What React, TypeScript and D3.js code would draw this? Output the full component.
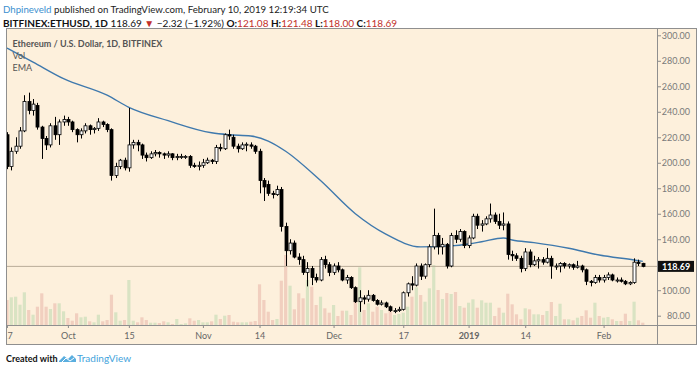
import React, { useEffect, useRef } from 'react';
import * as d3 from 'd3';

// ETHUSD daily, Bitfinex, 2018-09-17 .. 2019-02-10
const startDay = '2018-09-17';

const opens = [
  222, 197, 209, 213, 225, 248, 241, 245, 228, 219, 214, 229, 222, 232, 234, 232, 226, 222, 225, 229,
  226, 227, 232, 230, 226, 190, 197, 202, 196, 214, 216, 214, 206, 204, 207, 208, 207, 206, 207, 204,
  205, 205, 205, 198, 197, 198, 200, 202, 201, 212, 211, 222, 220, 213, 211, 214, 214, 213, 209, 186,
  183, 176, 175, 179, 150, 131, 137, 126, 124, 114, 117, 110, 108, 124, 120, 114, 119, 116, 108, 110,
  102, 91, 94, 93, 96, 92, 89, 90, 87, 84, 84, 85, 98, 105, 104, 119, 111, 120, 134, 143,
  134, 136, 119, 143, 140, 146, 135, 141, 158, 151, 152, 156, 159, 154, 151, 152, 128, 127, 125, 117,
  130, 120, 123, 124, 122, 125, 119, 119, 121, 119, 120, 118, 119, 116, 107, 106, 110, 108, 110, 112,
  108, 108, 107, 105, 106, 122, 121.08,
];
const highs = [
  224, 212, 220, 228, 253, 255, 250, 247, 229, 221, 231, 236, 234, 237, 236, 233, 227, 227, 231, 230,
  228, 235, 233, 231, 227, 200, 203, 204, 243, 218, 218, 215, 208, 209, 210, 209, 208, 209, 207.5, 207,
  207, 206, 206, 200, 201, 203, 204, 203, 214, 215, 223, 226, 222, 215, 216, 216, 216, 214, 211, 188,
  186, 178, 182, 181, 153, 140, 139, 129, 127, 122, 119, 113, 126, 127, 122, 121, 122, 117, 112, 111,
  103, 100, 96, 100, 97, 93, 92, 91, 88, 86, 87, 99, 106, 111, 121, 121, 121, 136, 164, 145,
  141, 137, 145, 147, 148, 147, 143, 160, 160, 155, 158, 168, 161, 160, 161, 154, 131, 129, 127, 133,
  132, 127, 126, 126, 133, 127, 121, 122, 122, 121, 121, 123, 120, 117, 108, 112, 112, 112, 114, 113,
  110, 110, 108, 107, 125, 124, 121.48,
];
const lows = [
  195, 194, 207, 211, 224, 238, 237, 226, 203, 210, 212, 218, 214, 229, 229, 224, 216, 219, 223, 222,
  223, 225, 228, 224, 186, 188, 195, 194, 193, 211, 209, 203, 201, 203, 205, 204, 203, 204, 202, 202,
  203, 203, 196, 196, 194, 196, 199, 199, 199, 209, 210, 218, 211, 208, 210, 209, 211, 207, 176, 170,
  174, 172, 174, 146, 119, 128, 125, 120, 112, 103, 104, 106, 107, 117, 111, 112, 114, 107, 105, 101,
  90, 83, 89, 91, 91, 88, 88, 86, 83, 82, 83, 84, 95, 100, 103, 108, 109, 118, 132, 128,
  128, 117, 118, 137, 138, 133, 133, 140, 148, 146, 151, 153, 152, 148, 147, 124, 123, 123, 114, 115,
  118, 119, 117, 120, 121, 109, 116, 114, 117, 117, 116, 117, 114, 104, 103, 105, 106, 106, 108, 107,
  106, 106, 104, 104, 105, 119, 118,
];
const closes = [
  197, 209, 213, 225, 248, 241, 246, 228, 219, 214, 229, 222, 232, 234, 232, 226, 222, 225, 229, 226,
  227, 232, 230, 226, 190, 197, 202, 196, 214, 216, 214, 206, 204, 207, 208, 207, 206, 207, 204, 205,
  205, 205, 198, 197, 198, 200, 202, 201, 212, 211, 222, 221, 213, 211, 214, 214.5, 213, 209, 186, 181,
  176, 175, 179, 150, 131, 137, 126, 124, 114, 117, 110, 108, 124, 120, 114, 119, 116, 108, 110, 102,
  91, 94, 93, 96, 92, 89, 90, 87, 84, 84, 85, 98, 105, 104, 119, 111, 120, 134, 143, 134,
  136, 119, 143, 140, 146, 135, 141, 158, 151, 152, 156, 159, 154, 151, 152, 128, 127, 125, 117, 130,
  120, 123, 124, 122, 125, 119, 119, 121, 119, 120, 118, 119, 116, 107, 106, 110, 108, 110, 112, 108,
  108, 107, 105, 106, 122, 121.01, 118.69,
];
// volume, thousands of ETH
const volumes = [
  250, 277, 283, 203, 327, 150, 103, 183, 317, 183, 160, 217, 217, 137, 70, 43, 117, 77, 83, 37,
  27, 103, 37, 50, 303, 127, 43, 50, 450, 43, 27, 77, 50, 23, 23, 20, 37, 27, 10, 60,
  10, 17, 67, 43, 50, 27, 27, 37, 103, 60, 93, 100, 33, 27, 27, 27, 33, 40, 407, 250,
  133, 50, 60, 443, 700, 393, 157, 317, 267, 450, 383, 200, 283, 167, 123, 200, 90, 143, 143, 100,
  350, 577, 150, 217, 133, 183, 150, 117, 167, 100, 110, 123, 183, 283, 377, 300, 233, 367, 600, 350,
  260, 320, 310, 330, 190, 173, 223, 257, 173, 247, 223, 223, 90, 173, 123, 313, 207, 107, 57, 167,
  157, 107, 107, 100, 140, 230, 90, 213, 57, 57, 47, 73, 90, 147, 73, 223, 90, 73, 80, 57,
  40, 40, 113, 40, 233, 47, 23,
];

// EMA
const emaDates = [
  '2018-09-17', '2018-09-23', '2018-09-30', '2018-10-10', '2018-10-15', '2018-10-24', '2018-11-03',
  '2018-11-07', '2018-11-12', '2018-11-16', '2018-11-20', '2018-11-28', '2018-12-06', '2018-12-13',
  '2018-12-21', '2018-12-28', '2019-01-01', '2019-01-04', '2019-01-09', '2019-01-11', '2019-01-16',
  '2019-01-24', '2019-01-31', '2019-02-08', '2019-02-10',
];
const emaValues = [
  290, 279, 266, 253, 243.5, 233, 223.5, 222, 221, 217, 209, 186, 160, 144,
  134, 134.8, 136.3, 138, 141, 139.4, 137.3, 132.9, 127.6, 123.7, 122.6,
];

const priceTicks = [80, 100, 120, 140, 160, 180, 200, 220, 240, 260, 280, 300];
const timeTicks = [
  { date: '2018-09-17', label: '17' },
  { date: '2018-10-01', label: 'Oct' },
  { date: '2018-10-15', label: '15' },
  { date: '2018-11-01', label: 'Nov' },
  { date: '2018-11-14', label: '14' },
  { date: '2018-12-01', label: 'Dec' },
  { date: '2018-12-17', label: '17' },
  { date: '2019-01-01', label: '2019' },
  { date: '2019-01-14', label: '14' },
  { date: '2019-02-01', label: 'Feb' },
];

const lastPrice = 118.69;

const W = 700;
const H = 370;
const FONT = 'Lato, "Open Sans", sans-serif';

const App: React.FC = () => {
  const svgRef = useRef<SVGSVGElement>(null);

  useEffect(() => {
    if (!svgRef.current) return;
    const svg = d3.select(svgRef.current);
    svg.selectAll('*').remove();

    const frame = { left: 6, right: 697, top: 28, bottom: 345 };
    const plot = { left: 6, right: 657, top: 28, bottom: 325 };

    const parse = d3.utcParse('%Y-%m-%d');
    const day0 = parse(startDay) as Date;
    const dates = closes.map((_, i) => d3.utcDay.offset(day0, i));

    const x = d3.scaleUtc()
      .domain([parse('2018-10-01') as Date, parse('2019-02-01') as Date])
      .range([67.9, 603.6]);
    const y = d3.scaleLinear().domain([80, 300]).range([315.7, 35.3]);
    const v = d3.scaleLinear().domain([0, 700]).range([plot.bottom, plot.bottom - 70]);

    // background
    svg.append('rect')
      .attr('x', frame.left).attr('y', frame.top)
      .attr('width', frame.right - frame.left).attr('height', frame.bottom - frame.top)
      .attr('fill', '#fdf0dc');

    const defs = svg.append('defs');
    defs.append('clipPath').attr('id', 'plot-clip')
      .append('rect')
      .attr('x', plot.left + 0.5).attr('y', plot.top)
      .attr('width', plot.right - plot.left - 0.5).attr('height', plot.bottom - plot.top);
    defs.append('clipPath').attr('id', 'taxis-clip')
      .append('rect')
      .attr('x', plot.left + 0.5).attr('y', plot.bottom)
      .attr('width', plot.right - plot.left).attr('height', frame.bottom - plot.bottom);

    const g = svg.append('g').attr('clip-path', 'url(#plot-clip)');

    // volume
    const up = (i: number) => closes[i] >= opens[i];
    g.append('g').selectAll('rect')
      .data(volumes)
      .join('rect')
      .attr('x', (_, i) => x(dates[i]) - 1.6)
      .attr('width', 3.2)
      .attr('y', d => v(d))
      .attr('height', d => plot.bottom - v(d))
      .attr('fill', (_, i) => (up(i) ? '#d9e3c3' : '#f1cfbf'));

    // last price line
    g.append('line')
      .attr('x1', plot.left).attr('x2', plot.right)
      .attr('y1', y(lastPrice)).attr('y2', y(lastPrice))
      .attr('stroke', '#b9ab98').attr('stroke-width', 1);

    // EMA
    const emaPts = emaDates.map((d, i) => [x(parse(d) as Date), y(emaValues[i])] as [number, number]);
    g.append('path')
      .attr('d', d3.line().curve(d3.curveMonotoneX)(emaPts))
      .attr('fill', 'none')
      .attr('stroke', '#3f79ad')
      .attr('stroke-width', 1.4);

    // candles
    const candles = g.append('g').selectAll('g')
      .data(closes)
      .join('g');
    candles.append('line')
      .attr('x1', (_, i) => Math.round(x(dates[i])) + 0.5)
      .attr('x2', (_, i) => Math.round(x(dates[i])) + 0.5)
      .attr('y1', (_, i) => y(highs[i]))
      .attr('y2', (_, i) => y(lows[i]))
      .attr('stroke', '#000').attr('stroke-width', 1);
    candles.append('rect')
      .attr('x', (_, i) => Math.round(x(dates[i])) - 1)
      .attr('width', 3)
      .attr('y', (_, i) => y(Math.max(opens[i], closes[i])))
      .attr('height', (_, i) => Math.max(1, Math.abs(y(opens[i]) - y(closes[i]))))
      .attr('fill', (_, i) => (up(i) ? '#ffffff' : '#000000'))
      .attr('stroke', '#000').attr('stroke-width', 0.8);

    // price axis
    const pAxis = svg.append('g')
      .attr('transform', `translate(${plot.right},0)`)
      .call(d3.axisRight(y).tickValues(priceTicks).tickFormat(d3.format('.2f')).tickSize(4));
    pAxis.select('.domain').remove();
    pAxis.selectAll('line').attr('stroke', '#8a8a8a');
    pAxis.selectAll('text')
      .attr('x', 33).attr('text-anchor', 'end')
      .attr('fill', '#7a7a7a').style('font-family', FONT).style('font-size', '9px');

    // last price label
    svg.append('rect')
      .attr('x', plot.right + 1).attr('y', y(lastPrice) - 5.5)
      .attr('width', 36).attr('height', 11)
      .attr('fill', '#111');
    svg.append('text')
      .attr('x', plot.right + 19).attr('y', y(lastPrice) + 3.2)
      .attr('text-anchor', 'middle')
      .attr('fill', '#fff')
      .style('font-family', FONT).style('font-size', '9px').style('font-weight', 'bold')
      .text(lastPrice.toFixed(2));

    // time axis
    const tAxis = svg.append('g')
      .attr('clip-path', 'url(#taxis-clip)')
      .append('g')
      .attr('transform', `translate(0,${plot.bottom})`)
      .call(d3.axisBottom(x)
        .tickValues(timeTicks.map(t => parse(t.date) as Date))
        .tickFormat((_, i) => timeTicks[i].label)
        .tickSize(3)
        .tickPadding(5));
    tAxis.select('.domain').remove();
    tAxis.selectAll('line').attr('stroke', '#8a8a8a');
    tAxis.selectAll('text')
      .attr('fill', '#666')
      .style('font-family', FONT).style('font-size', '9px')
      .style('font-weight', (_, i) => (timeTicks[i].label === '2019' ? 'bold' : 'normal'));

    // frame
    const fr = svg.append('g').attr('stroke', '#8f8f8f').attr('fill', 'none').attr('stroke-width', 1);
    fr.append('rect')
      .attr('x', frame.left + 0.5).attr('y', frame.top + 0.5)
      .attr('width', frame.right - frame.left - 1).attr('height', frame.bottom - frame.top - 1);
    fr.append('line')
      .attr('x1', plot.right + 0.5).attr('x2', plot.right + 0.5)
      .attr('y1', frame.top).attr('y2', frame.bottom);
    fr.append('line')
      .attr('x1', frame.left).attr('x2', frame.right)
      .attr('y1', plot.bottom + 0.5).attr('y2', plot.bottom + 0.5);

    // legend in pane
    const leg = svg.append('g')
      .attr('fill', '#555').style('font-family', FONT).style('font-size', '9px');
    leg.append('text').attr('x', 12.5).attr('y', 46.5).style('font-weight', 'bold')
      .text('Ethereum / U.S. Dollar, 1D, BITFINEX');
    leg.append('text').attr('x', 12.5).attr('y', 58.5).text('Vol');
    leg.append('text').attr('x', 12.5).attr('y', 70.5).text('EMA');

    // header
    const h1 = svg.append('text').attr('x', 3).attr('y', 13)
      .style('font-family', FONT).style('font-size', '9.7px').attr('fill', '#222');
    h1.append('tspan').attr('fill', '#3b8fcf').text('Dhpineveld');
    h1.append('tspan').text(' published on TradingView.com, February 10, 2019 12:19:34 UTC');

    const red = '#c2302a';
    const h2 = svg.append('text').attr('x', 3).attr('y', 26.5)
      .style('font-family', FONT).style('font-size', '10px').attr('fill', '#111');
    h2.append('tspan').style('font-weight', 'bold').text('BITFINEX:ETHUSD, 1D');
    h2.append('tspan').text(' 118.69 ');
    h2.append('tspan').attr('fill', red).text('▼');
    h2.append('tspan').text(' −2.32 (−1.92%) ');
    h2.append('tspan').style('font-weight', 'bold').text('O:');
    h2.append('tspan').attr('fill', red).text('121.08');
    h2.append('tspan').style('font-weight', 'bold').text(' H:');
    h2.append('tspan').attr('fill', red).text('121.48');
    h2.append('tspan').style('font-weight', 'bold').text(' L:');
    h2.append('tspan').attr('fill', red).text('118.00');
    h2.append('tspan').style('font-weight', 'bold').text(' C:');
    h2.append('tspan').attr('fill', red).text('118.69');

    // footer
    svg.append('text').attr('x', 6).attr('y', 362)
      .style('font-family', FONT).style('font-size', '9px').style('font-weight', 'bold')
      .attr('fill', '#111')
      .text('Created with');
    const logo = svg.append('g').attr('transform', 'translate(59,355)');
    logo.append('path')
      .attr('d', 'M0,6 L5,1 L9,4 L13,0 L17,4 L17,7 L0,7 Z')
      .attr('fill', '#5aaedf');
    logo.append('path')
      .attr('d', 'M3,7 L7,3 L11,6 L15,3')
      .attr('fill', 'none').attr('stroke', '#fff').attr('stroke-width', 1);
    svg.append('text').attr('x', 77).attr('y', 362)
      .style('font-family', FONT).style('font-size', '10px').attr('fill', '#43a3dc')
      .text('TradingView');
  }, []);

  return (
    <div style={{ position: 'absolute', left: 0, top: 0, width: W, height: H, background: '#fff' }}>
      <svg ref={svgRef} width={W} height={H} />
    </div>
  );
};

export default App;
